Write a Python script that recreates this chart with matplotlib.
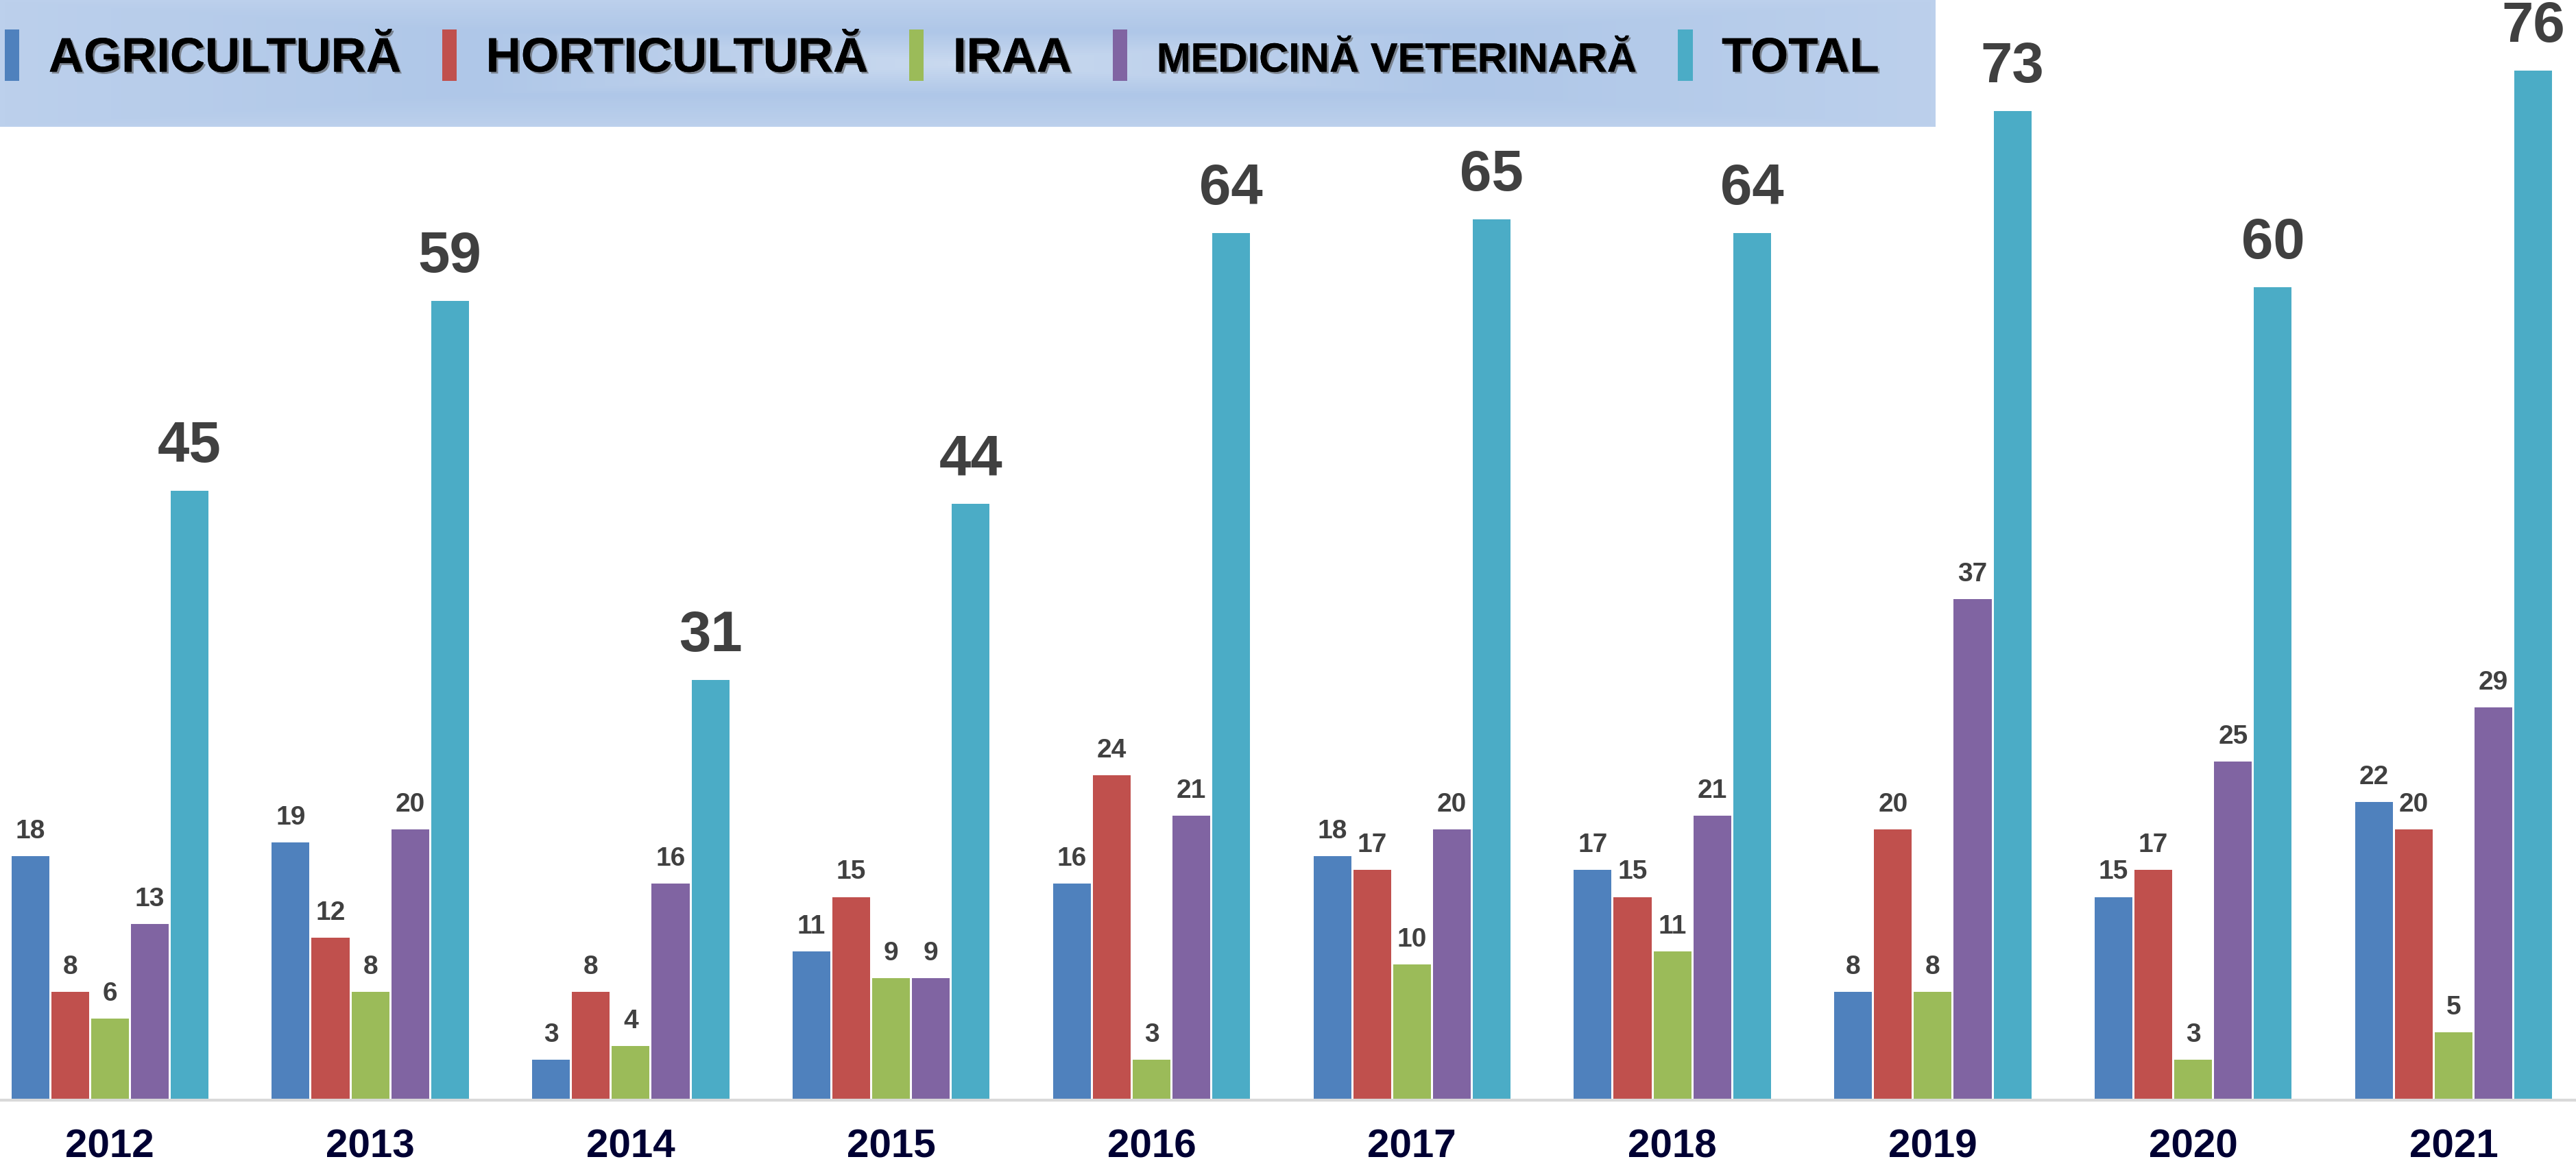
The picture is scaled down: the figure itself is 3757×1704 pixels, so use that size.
import numpy as np
import matplotlib
matplotlib.use("Agg")
import matplotlib.pyplot as plt
from matplotlib import patheffects
from matplotlib.colors import LinearSegmentedColormap

plt.rcParams['font.family'] = ['Liberation Sans', 'DejaVu Sans']

# data
years = ["2012", "2013", "2014", "2015", "2016", "2017", "2018", "2019", "2020", "2021"]
agricultura = [18, 19, 3, 11, 16, 18, 17, 8, 15, 22]
horticultura = [8, 12, 8, 15, 24, 17, 15, 20, 17, 20]
iraa = [6, 8, 4, 9, 3, 10, 11, 8, 3, 5]
medicina_vet = [13, 20, 16, 9, 21, 20, 21, 37, 25, 29]
total = [45, 59, 31, 44, 64, 65, 64, 73, 60, 76]

series_names = ["AGRICULTURĂ", "HORTICULTURĂ", "IRAA", "MEDICINĂ VETERINARĂ", "TOTAL"]
colors = ["#4F81BD", "#C0504D", "#9BBB59", "#8064A2", "#4BACC6"]

W, H = 3757, 1704
fig = plt.figure(figsize=(W / 100, H / 100), dpi=100)
ax = fig.add_axes([0, 99 / H, 1, 1605 / H])

x = np.arange(len(years))
pitch = 0.153
width = 0.145
all_series = [agricultura, horticultura, iraa, medicina_vet, total]
for i, (vals, name, col) in enumerate(zip(all_series, series_names, colors)):
    bars = ax.bar(x + (i - 2) * pitch, vals, width, color=col, label=name, zorder=2)
    if name == "TOTAL":
        ax.bar_label(bars, padding=18, fontsize=60, fontweight='bold', color='#404040')
    else:
        ax.bar_label(bars, padding=13, fontsize=28, fontweight='bold', color='#404040')

ax.set_xlim(-0.422, 9.47)
ax.set_ylim(0, 81.2)
ax.set_xticks(x)
ax.set_xticklabels(years, fontweight='bold')
ax.tick_params(axis='x', length=0, pad=30, labelsize=42, labelcolor='#000033')
ax.set_yticks([])
for s in ['top', 'left', 'right']:
    ax.spines[s].set_visible(False)
ax.spines['bottom'].set_color('#d9d9d9')
ax.spines['bottom'].set_linewidth(3)

# legend strip with a soft gradient behind it
lax = fig.add_axes([0, 1 - 185 / H, 2823 / W, 185 / H], zorder=5)
gx = np.abs(np.linspace(-1, 1, 400))[None, :]
gy = np.abs(np.linspace(-1, 1, 60))[:, None]
grad = np.maximum(gx, gy)
cmap = LinearSegmentedColormap.from_list("bg", ["#c9d9ef", "#afc7e8", "#bcd0ec"])
lax.imshow(grad, cmap=cmap, aspect='auto', extent=[0, 1, 0, 1])
lax.set_xlim(0, 1)
lax.set_ylim(0, 1)
lax.axis('off')

handles, labels = ax.get_legend_handles_labels()
leg = lax.legend(handles, labels, ncol=5, loc='center left', bbox_to_anchor=(0.0, 0.56),
                 frameon=False, prop={'size': 51, 'weight': 'bold'},
                 handlelength=0.3, handleheight=1.25, handletextpad=0.6,
                 columnspacing=0.85, borderaxespad=0, borderpad=0.1)
shadow = [patheffects.withSimplePatchShadow(offset=(2, -2), shadow_rgbFace='#555555', alpha=0.6),
          patheffects.Normal()]
for t in leg.get_texts():
    t.set_color('black')
    t.set_path_effects(shadow)
leg.get_texts()[3].set_fontsize(43)

fig.savefig("out.png", dpi=100)
